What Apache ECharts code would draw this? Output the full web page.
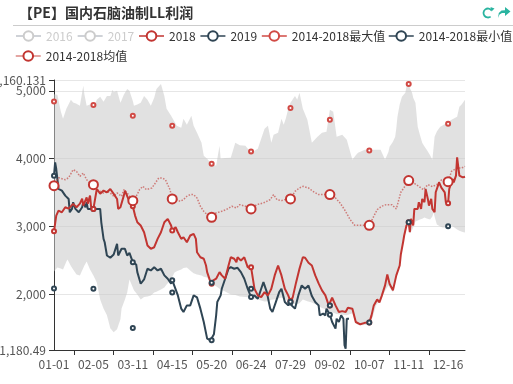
<!DOCTYPE html>
<html>
<head>
<meta charset="utf-8">
<script src="https://cdn.jsdelivr.net/npm/echarts@6/dist/echarts.min.js"></script>
<style>html,body{margin:0;padding:0;background:#fff;}#c{width:513px;height:384px;}</style>
</head>
<body>
<div id="c"></div>
<script>
// ---- categories (leap-year calendar days) ----
const monthDays = [31,29,31,30,31,30,31,31,30,31,30,31];
const categories = [];
monthDays.forEach(function (n, m) {
  for (let d = 1; d <= n; d++) categories.push(String(m + 1).padStart(2, '0') + '-' + String(d).padStart(2, '0'));
});
const legendRow1a = ['2016','2017','2018','2019','2014-2018最大值'];
const legendRow1b = ['2014-2018最小值'];
const legendRow2 = ['2014-2018均值'];

// ---- series values: [dayIndex, value] ----
const s2018 = [[0,2930],[2,3160],[4,3235],[7,3210],[10,3284],[13,3265],[17,3334],[20,3284],[23,3338],[25,3412],[26,3309],[29,3431],[30,3338],[32,3456],[33,3284],[35,3260],[38,3554],[41,3485],[44,3530],[47,3505],[50,3554],[53,3481],[56,3407],[57,3260],[59,3284],[62,3456],[63,3530],[66,3407],[69,3334],[70,3300],[72,3162],[74,3064],[77,3015],[80,2916],[83,2721],[86,2672],[89,2695],[92,2819],[95,2916],[98,3063],[99,3040],[101,3113],[104,3015],[105,2941],[108,2990],[110,2916],[113,2819],[115,2843],[118,2769],[121,2868],[124,2893],[126,2819],[127,2622],[130,2548],[133,2525],[135,2426],[136,2328],[139,2181],[140,2157],[144,2231],[147,2328],[149,2280],[152,2231],[155,2426],[157,2548],[160,2525],[162,2475],[163,2548],[166,2500],[169,2548],[172,2401],[175,2401],[177,2191],[178,2084],[181,1985],[184,1960],[187,2034],[190,1985],[193,2084],[196,2280],[199,2426],[202,2280],[205,2084],[208,1985],[210,1901],[212,1956],[215,2177],[218,2378],[221,2548],[223,2540],[226,2466],[229,2426],[232,2280],[235,2162],[238,2059],[241,1985],[244,1838],[245,1838],[247,1951],[250,1838],[253,1740],[256,1754],[259,1740],[261,1804],[265,1790],[268,1593],[272,1559],[276,1581],[280,1584],[282,1691],[284,1838],[287,1926],[289,1882],[291,1975],[294,2133],[296,2294],[298,2157],[301,2059],[302,2030],[304,2280],[307,2426],[308,2588],[310,2769],[311,2868],[313,3015],[315,3063],[316,2916],[317,3113],[319,3015],[320,3260],[323,3260],[324,3358],[326,3260],[327,3407],[329,3358],[330,3554],[332,3407],[333,3309],[335,3407],[336,3260],[338,3210],[339,3505],[341,3603],[342,3652],[344,3573],[347,3505],[348,3358],[350,3343],[351,3554],[353,3652],[354,3701],[355,3652],[357,3750],[358,4019],[360,3750],[361,3750],[363,3725],[365,3735]];

const s2019 = [[0,3750],[1,3945],[2,3848],[4,3554],[7,3529],[10,3456],[13,3407],[14,3210],[16,3260],[17,3358],[19,3260],[22,3210],[25,3284],[26,3358],[28,3284],[29,3358],[30,3260],[35,3260],[41,3260],[42,3063],[44,2819],[45,2769],[47,2573],[50,2540],[53,2588],[56,2745],[57,2573],[60,2672],[63,2672],[65,2573],[67,2613],[70,2475],[73,2441],[74,2328],[77,2157],[80,2220],[83,2378],[86,2353],[89,2401],[92,2353],[95,2378],[98,2280],[101,2231],[104,2157],[105,2210],[110,1985],[113,1790],[115,1740],[118,1838],[121,1838],[124,1985],[127,1956],[130,1790],[133,1593],[136,1348],[139,1324],[140,1324],[142,1412],[144,1691],[145,1887],[148,1985],[149,2084],[152,2231],[155,2378],[157,2401],[160,2378],[163,2392],[166,2328],[169,2231],[172,2084],[175,1960],[178,1985],[181,1936],[184,2084],[186,2181],[189,2034],[192,1790],[194,1740],[197,1887],[200,2034],[202,2084],[205,1887],[208,1838],[210,1882],[211,1838],[214,1790],[217,1985],[220,2132],[223,2084],[226,2132],[229,1975],[232,1887],[235,1838],[236,1691],[239,1716],[241,1691],[242,1790],[245,1701],[247,1593],[250,1495],[251,1642],[253,1593],[255,1691],[257,1642],[258,1250],[259,1200],[260,1642],[262,1642]];

const sMean = [[0,3603],[4,3720],[5,3740],[10,3691],[13,3720],[17,3838],[20,3813],[23,3740],[26,3789],[29,3691],[32,3642],[35,3618],[38,3544],[44,3495],[47,3519],[50,3495],[53,3446],[56,3495],[60,3446],[62,3544],[65,3495],[67,3446],[70,3382],[73,3446],[76,3544],[79,3593],[82,3544],[87,3569],[90,3642],[93,3716],[96,3716],[99,3691],[103,3544],[105,3407],[109,3397],[112,3372],[115,3397],[118,3446],[121,3471],[124,3471],[127,3422],[130,3299],[133,3225],[136,3176],[139,3152],[140,3137],[144,3201],[149,3225],[153,3250],[158,3299],[162,3274],[165,3323],[170,3299],[175,3260],[180,3323],[186,3348],[192,3397],[195,3471],[198,3397],[202,3382],[205,3397],[210,3407],[214,3519],[218,3569],[221,3593],[226,3569],[230,3519],[235,3471],[240,3471],[245,3471],[250,3422],[254,3348],[258,3250],[263,3103],[267,3019],[272,3019],[276,3019],[280,3019],[284,3152],[287,3250],[291,3299],[295,3323],[300,3323],[304,3260],[308,3505],[315,3677],[319,3647],[324,3593],[328,3544],[332,3618],[336,3588],[340,3618],[344,3686],[350,3662],[353,3813],[358,3863],[362,3863],[365,3887]];

// 2014-2018 band (daily envelope)
const bandIdx    = [0,3,6,8,11,12,15,17,20,23,26,27,29,32,35,38,41,44,47,50,52,53,56,59,60,62,63,65,67,70,71,74,77,80,83,86,89,91,95,98,100,104,107,109,113,115,118,122,124,127,131,133,136,139,141,144,147,148,152,157,161,165,170,175,181,187,190,193,195,199,202,204,206,208,210,214,216,218,221,225,229,234,238,242,245,248,251,256,260,265,268,270,273,276,280,283,286,290,294,297,298,301,303,304,305,307,309,310,312,313,315,316,318,319,321,323,325,327,329,331,334,336,337,338,340,343,345,349,353,358,360,362,363,365];
const bandTop    = [4950,4941,4700,4588,4735,4735,4868,4830,4809,4779,5074,4950,4779,4800,4750,4868,4912,4838,4926,4926,5015,4980,5000,4824,4860,4941,4960,5029,5000,4850,4779,4800,4824,4926,4868,4779,4897,5029,5103,4926,4735,4632,4544,4485,4456,4588,4500,4632,4485,4382,4235,4044,4000,3941,3920,3897,4191,4000,4010,4015,4235,4200,4191,4088,4147,4441,4485,4235,4353,4382,4588,4500,4600,4735,4824,4926,4868,4971,4735,4574,4235,4324,4382,4397,4721,4691,4324,4353,4279,3985,4050,4088,4110,4132,4132,4132,4132,4132,3985,4100,4177,4250,4324,4450,4618,4800,4912,4940,4971,5059,5150,5044,4971,4900,4824,4471,4350,4235,4180,4132,4050,3985,4150,4324,4400,4471,4490,4529,4574,4618,4765,4800,4824,4868];
const bandBottom = [2338,2397,2380,2368,2485,2515,2420,2368,2294,2279,2400,2426,2485,2368,2279,2176,1926,1794,1691,1500,1460,1441,1485,1632,1794,1880,1926,2029,2220,2088,2060,2000,1926,1960,1970,1985,2029,2040,2073,2100,2147,2220,2323,2340,2368,2390,2397,2338,2310,2294,2279,2260,2250,2176,2150,2120,2090,2074,2044,2000,1990,1970,1960,1956,1926,1897,1900,1920,1926,1940,1956,1940,1926,1900,1882,1860,1853,1870,1926,1900,1880,1838,1800,1779,1750,1730,1710,1700,1691,1721,1573,1550,1544,1550,1559,1662,1838,1926,2050,2132,2100,2030,2150,2250,2300,2426,2650,2750,2900,2985,3044,2897,2950,2985,3073,3090,3103,3115,3132,3120,3103,3150,3206,3150,3029,3000,2985,2985,3015,2956,2940,2926,2920,2912];

// 2014-2018 max / min markers at labelled days
const markIdx  = [0,35,70,105,140,175,210,245,280,315,350];
const maxMarks = [4843,4790,4632,4485,3926,4107,4746,4574,4122,5103,4515];
const minMarks = [2088,2084,1504,2029,2170,2084,1890,1838,1584,3063,3004];

const yMin = 1180.49, yMax = 5160.131;

// ---- build ----
const FONT = "'Noto Sans CJK SC', 'Noto Sans', sans-serif";
const RED = '#c23531', DARK = '#2f4554';
const bandBaseData = bandIdx.map(function (d, k) { return [d, bandBottom[k]]; });
const bandRangeData = bandIdx.map(function (d, k) { return [d, bandTop[k] - bandBottom[k]]; });
const maxData = markIdx.map(function (d, k) { return [d, maxMarks[k]]; });
const minData = markIdx.map(function (d, k) { return [d, minMarks[k]]; });

const chart = echarts.init(document.getElementById('c'), null, {renderer: 'canvas'});
const legendCommon = {
  padding: 0, itemWidth: 25, itemHeight: 12, itemGap: 4,
  textStyle: {fontSize: 12, color: '#333', fontFamily: FONT},
  inactiveColor: '#ccc',
  itemStyle: {borderWidth: 1.5},
  lineStyle: {opacity: 1, type: 'solid', width: 1.5}
};
const yLabelBase = {color: '#555', fontSize: 12, fontFamily: FONT, margin: 8};
chart.setOption({
  animation: false,
  backgroundColor: '#fff',
  title: {text: '【PE】国内石脑油制LL利润', left: 14, top: 1,
    textStyle: {fontSize: 14, fontWeight: 'bold', color: '#333', fontFamily: FONT}},
  graphic: [
    {type: 'line', shape: {x1: 13, y1: 25.5, x2: 513, y2: 25.5}, style: {stroke: '#ccc', lineWidth: 1}, silent: true},
    {type: 'arc', shape: {cx: 488, cy: 13, r: 4.5, startAngle: Math.PI * 0.3, endAngle: Math.PI * 1.8}, style: {stroke: '#2ab4a0', lineWidth: 1.8, fill: null}, silent: true},
    {type: 'polygon', shape: {points: [[490.5, 7], [494.5, 8.5], [491.5, 11.5]]}, style: {fill: '#2ab4a0'}, silent: true},
    {type: 'polygon', shape: {points: [[498, 18], [498.8, 13], [501.5, 10.5], [505, 10.3], [505, 7], [510.5, 11.5], [505, 16], [505, 13], [502, 13], [499.5, 14.5]]}, style: {fill: '#2ab4a0'}, silent: true}
  ],
  legend: [
    Object.assign({left: 15, top: 30, data: legendRow1a, selected: {'2016': false, '2017': false}}, legendCommon),
    Object.assign({left: 388, top: 30, data: legendRow1b}, legendCommon),
    Object.assign({left: 15, top: 50, data: legendRow2}, legendCommon)
  ],
  grid: {left: 54, right: 48, top: 80, bottom: 34, containLabel: false, outerBoundsMode: 'none'},
  xAxis: {
    type: 'category', data: categories, boundaryGap: false,
    axisLine: {show: true, lineStyle: {color: '#333'}},
    axisTick: {show: true, interval: function (i) { return i % 35 === 18; }, lineStyle: {color: '#333'}},
    axisLabel: {interval: 34, color: '#555', fontSize: 12, fontFamily: FONT, margin: 8},
    splitLine: {show: false}
  },
  yAxis: [
    {
      type: 'value', min: yMin, max: yMax, position: 'left',
      axisLine: {show: true, lineStyle: {color: '#333'}},
      axisTick: {show: true, lineStyle: {color: '#333'}},
      axisLabel: Object.assign({showMinLabel: true, showMaxLabel: false}, yLabelBase),
      splitLine: {show: true, lineStyle: {color: '#e6e6e6'}}
    },
    {
      // carries only the top (max) label and tick of the same scale
      type: 'value', min: yMin, max: yMax, position: 'left', offset: 0,
      axisLine: {show: false},
      axisTick: {show: true, lineStyle: {color: '#333'},
        interval: 0},
      axisLabel: Object.assign({showMinLabel: false, showMaxLabel: true,
        formatter: function (v) { return v === yMax ? echarts.format.addCommas(v) : ''; }}, yLabelBase),
      splitLine: {show: false}
    }
  ],
  series: [
    {name: '2016', type: 'line', data: [], symbol: 'emptyCircle', itemStyle: {color: '#ccc'}},
    {name: '2017', type: 'line', data: [], symbol: 'emptyCircle', itemStyle: {color: '#ccc'}},
    {name: 'bandBase', type: 'line', stack: 'band', data: bandBaseData, symbol: 'none', lineStyle: {opacity: 0}, silent: true},
    {name: 'bandRange', type: 'line', stack: 'band', data: bandRangeData, symbol: 'none', lineStyle: {opacity: 0},
      areaStyle: {color: 'rgba(200,200,200,0.55)', opacity: 1}, silent: true},
    {name: '2019', type: 'line', data: s2019, symbol: 'emptyCircle', symbolSize: 4,
      itemStyle: {color: DARK}, lineStyle: {color: DARK, width: 2}},
    {name: '2018', type: 'line', data: s2018, symbol: 'emptyCircle', symbolSize: 4,
      itemStyle: {color: RED}, lineStyle: {color: RED, width: 2}},
    {name: '2014-2018均值', type: 'line', data: sMean, symbol: 'emptyCircle', symbolSize: 9,
      itemStyle: {color: RED, borderWidth: 1.3}, lineStyle: {color: 'rgba(194,53,49,0.6)', width: 1.5, type: 'dotted'}},
    {name: '2014-2018最大值', type: 'line', data: maxData, symbol: 'emptyCircle', symbolSize: 4,
      itemStyle: {color: '#d14a45'}, lineStyle: {color: '#d14a45', opacity: 0}},
    {name: '2014-2018最小值', type: 'line', data: minData, symbol: 'emptyCircle', symbolSize: 4,
      itemStyle: {color: DARK}, lineStyle: {color: DARK, opacity: 0}}
  ]
});
</script>
</body>
</html>
